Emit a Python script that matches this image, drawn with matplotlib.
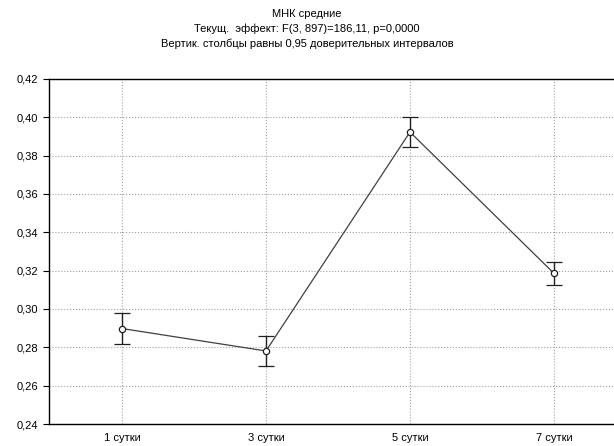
import matplotlib
matplotlib.use('Agg')
import matplotlib.pyplot as plt
from matplotlib.ticker import FuncFormatter

plt.rcParams['font.family'] = ['Liberation Sans', 'DejaVu Sans']

categories = ['1 сутки', '3 сутки', '5 сутки', '7 сутки']
means = [0.2898, 0.2781, 0.3923, 0.3186]
ci_half = [0.0080, 0.0078, 0.0079, 0.0060]
title_lines = ['МНК средние',
               'Текущ.  эффект: F(3, 897)=186,11, p=0,0000',
               'Вертик. столбцы равны 0,95 доверительных интервалов']
y_ticks = [0.24, 0.26, 0.28, 0.30, 0.32, 0.34, 0.36, 0.38, 0.40, 0.42]


def run():
    fig = plt.figure(figsize=(6.14, 4.46), dpi=100)
    ax = fig.add_axes([0.0798, 0.0493, 0.9202, 0.7737])

    x = list(range(len(categories)))
    ax.errorbar(x, means, yerr=ci_half, fmt='-', color='#404040', linewidth=0.9,
                ecolor='#202020', elinewidth=1.0, capsize=6, capthick=1.0,
                marker='o', markersize=4.5, markerfacecolor='white',
                markeredgecolor='#202020', markeredgewidth=0.9, zorder=3)

    ax.set_xlim(-0.507, 3.417)
    ax.set_ylim(0.24, 0.42)
    ax.set_xticks(x)
    ax.set_xticklabels(categories)
    ax.set_yticks(y_ticks)
    ax.yaxis.set_major_formatter(FuncFormatter(lambda v, p: ('%.2f' % v).replace('.', ',')))
    ax.grid(True, color='#a0a0a0', linestyle=':', linewidth=0.8)
    ax.set_axisbelow(True)

    for side in ['left', 'top', 'bottom']:
        ax.spines[side].set_linewidth(1.0)
        ax.spines[side].set_color('black')
    ax.spines['right'].set_visible(False)
    ax.tick_params(axis='y', labelsize=8, length=4, width=0.8, direction='out', pad=4)
    ax.tick_params(axis='x', labelsize=8, length=0, pad=6.5)

    for i, line in enumerate(title_lines):
        fig.text(0.5, 0.968 - i * 0.0335, line, ha='center', va='center', fontsize=8)

    fig.savefig('out.png', dpi=100)


if __name__ == '__main__':
    run()
